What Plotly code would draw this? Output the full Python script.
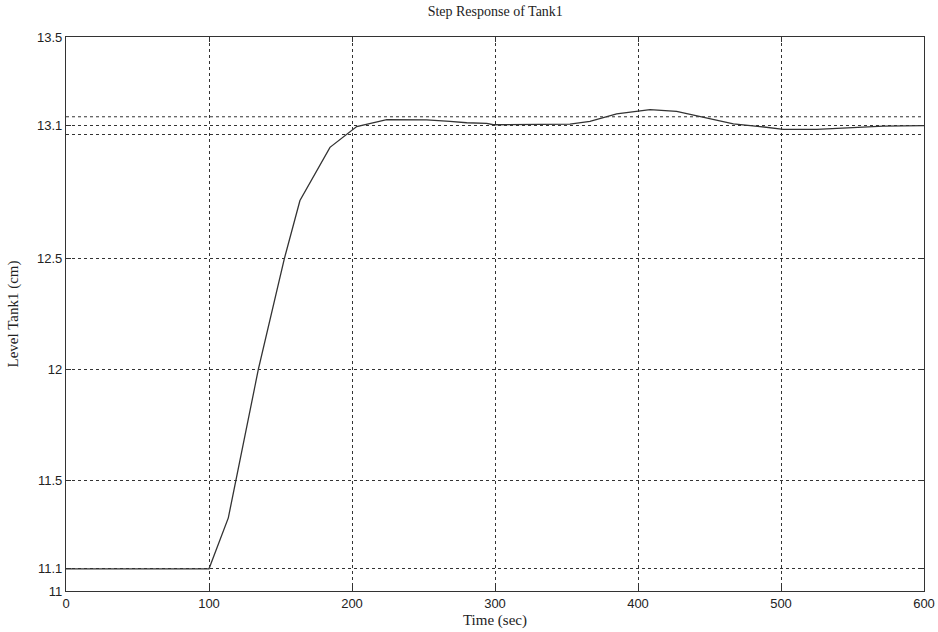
import plotly.graph_objects as go

time_s = [0, 100, 113.5, 118.7, 129.8, 134.5, 152.7, 157.8, 163.6, 184.6, 196.3, 203.3,
          224.3, 252.2, 268.5, 280.2, 294.2, 298.8, 352.4, 366.4, 385.1, 397.9, 408.4,
          427.0, 445.7, 466.7, 485.3, 501.6, 525.0, 548.3, 571.6, 600]
level_cm = [11.1, 11.1, 11.33, 11.5, 11.862, 12.0, 12.5, 12.627, 12.762, 13.002, 13.063, 13.096,
            13.127, 13.126, 13.119, 13.113, 13.11, 13.104, 13.107, 13.119, 13.153, 13.164, 13.172,
            13.164, 13.137, 13.108, 13.096, 13.083, 13.083, 13.092, 13.098, 13.1]

x_ticks = [0, 100, 200, 300, 400, 500, 600]
y_ticks = [11, 11.1, 11.5, 12, 12.5, 13.1, 13.5]
y_tick_text = ["11", "11.1", "11.5", "12", "12.5", "13.1", "13.5"]
band_levels = [13.06, 13.14]

fig = go.Figure()
fig.add_trace(go.Scatter(x=time_s, y=level_cm, mode="lines",
                         line=dict(color="#333333", width=1.3), showlegend=False))

for b in band_levels:
    fig.add_hline(y=b, line=dict(color="#333333", width=1, dash="dot"), layer="below")

serif = "Liberation Serif"
sans = "Liberation Sans"

fig.update_layout(
    width=938, height=632,
    margin=dict(l=66, r=14, t=37, b=41, autoexpand=False),
    paper_bgcolor="white", plot_bgcolor="white",
    title=dict(text="Step Response of Tank1", x=0.528, xanchor="center", y=0.99, yanchor="top",
               font=dict(family=serif, size=14, color="#222")),
    xaxis=dict(range=[0, 600], tickvals=x_ticks, showgrid=True, gridcolor="#333333",
               griddash="dot", gridwidth=1, showline=True, linecolor="#333333", linewidth=1.2,
               mirror="allticks", ticks="inside", ticklen=5, tickcolor="#333333",
               zeroline=False, automargin=False, tickfont=dict(family=sans, size=13, color="#222"),
               title=dict(text="Time (sec)", font=dict(family=serif, size=15, color="#222"), standoff=4)),
    yaxis=dict(range=[11, 13.5], tickvals=y_ticks, ticktext=y_tick_text, showgrid=True,
               gridcolor="#333333", griddash="dot", gridwidth=1, showline=True,
               linecolor="#333333", linewidth=1.2, mirror="allticks", ticks="inside", ticklen=5,
               tickcolor="#333333", zeroline=False, automargin=False,
               tickfont=dict(family=sans, size=13, color="#222"),
               title=dict(text="Level Tank1 (cm)", font=dict(family=serif, size=15, color="#222"), standoff=14)),
)

fig.write_html("out.html")
